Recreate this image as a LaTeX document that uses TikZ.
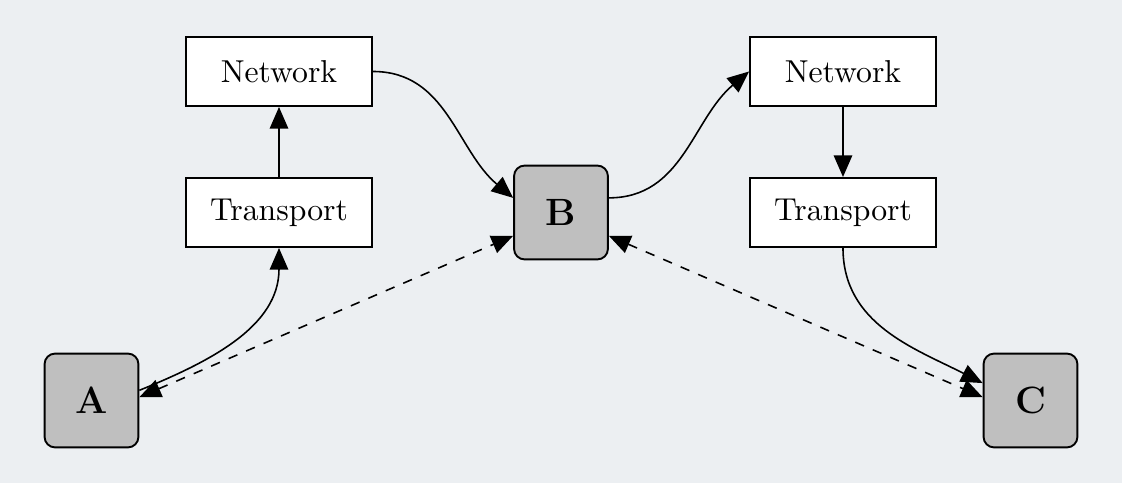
\documentclass[tikz,border=0pt]{standalone}
\usetikzlibrary{arrows.meta}
\definecolor{bgc}{RGB}{236,239,242}
\begin{document}
\begin{tikzpicture}[x=0.3155pt,y=0.3155pt,
 layer/.style={draw, fill=white, line width=0.6pt, minimum width=58.7pt, minimum height=21.8pt, inner sep=0pt},
 host/.style={draw, fill=gray!50, rounded corners=3.3pt, line width=0.6pt, minimum width=29.6pt, minimum height=29.6pt, inner sep=0pt, font=\large\bfseries},
 arr/.style={-{Triangle[length=6.8pt,width=5.8pt]}, line width=0.5pt},
 darr/.style={{Triangle[length=6.8pt,width=5.8pt]}-{Triangle[length=6.8pt,width=5.8pt]}, dashed, line width=0.5pt}]
\fill[bgc] (0,0) rectangle (1122,483);
\useasboundingbox (0,0) rectangle (1122,483);
\node[layer] (netL) at (279,411.5) {Network};
\node[layer] (transL) at (279,270.5) {Transport};
\node[layer] (netR) at (843,411.5) {Network};
\node[layer] (transR) at (843,270.5) {Transport};
\node[host] (A) at (91.5,82.5) {A};
\node[host] (B) at (561,270.5) {B};
\node[host] (C) at (1030.5,82.5) {C};
\draw[arr] (transL) -- (netL);
\draw[arr] (netR) -- (transR);
\draw[arr] (A.12) to[out=22,in=-90] (transL.south);
\draw[arr] (netL.east) to[out=0,in=140] (B.163);
\draw[arr] (B.17) to[out=0,in=220] (netR.west);
\draw[arr] (transR.south) to[out=-90,in=153] (C.160);
\draw[darr] (A.4) -- (B.206);
\draw[darr] (B.334) -- (C.176);
\end{tikzpicture}
\end{document}
